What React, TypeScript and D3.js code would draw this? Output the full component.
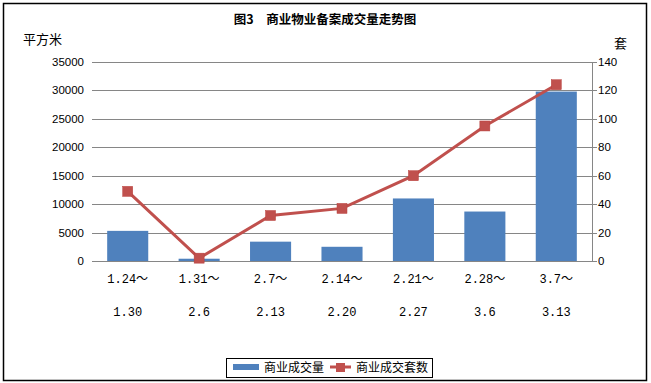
import React from "react";
import * as d3 from "d3";

const categoriesTop = ["1.24～", "1.31～", "2.7～", "2.14～", "2.21～", "2.28～", "3.7～"];
const categoriesBottom = ["1.30", "2.6", "2.13", "2.20", "2.27", "3.6", "3.13"];
const areaValues = [5300, 400, 3400, 2500, 11000, 8700, 29800];
const unitValues = [49, 2, 32, 37, 60, 95, 124];
const leftTicks = [0, 5000, 10000, 15000, 20000, 25000, 30000, 35000];
const rightTicks = [0, 20, 40, 60, 80, 100, 120, 140];

const W = 651;
const H = 383;
const plotLeft = 92;
const plotRight = 592;
const plotTop = 62;
const plotBottom = 261;

const barColor = "#4F81BD";
const lineColor = "#C0504D";
const gridColor = "#868686";
const cjk = "'Noto Sans CJK SC', sans-serif";
const num = "'Liberation Sans', Arial, sans-serif";
const mono = "'Liberation Mono', 'DejaVu Sans Mono', monospace";

export default function App() {
  const x = d3.scaleBand<number>().domain(d3.range(categoriesTop.length)).range([plotLeft, plotRight]).paddingInner(0.425).paddingOuter(0.2125);
  const band = d3.scaleBand<number>().domain(d3.range(categoriesTop.length)).range([plotLeft, plotRight]);
  const yL = d3.scaleLinear().domain([0, 35000]).range([plotBottom, plotTop]);
  const yR = d3.scaleLinear().domain([0, 140]).range([plotBottom, plotTop]);
  const cx = (i: number) => (band(i) as number) + band.bandwidth() / 2;
  const line = d3.line<number>().x((_, i) => cx(i)).y((d) => yR(d));

  return (
    <svg width={W} height={H} style={{ position: "absolute", left: 0, top: 0, background: "#fff" }}>
      <rect x={0} y={0} width={W} height={H} fill="#fff" />
      <rect x={3.5} y={3.5} width={643} height={377} fill="none" stroke="#000" strokeWidth={1.5} />
      <text x={325} y={24} textAnchor="middle" fontFamily={cjk} fontWeight="bold" fontSize={12.5} fill="#000">
        图3　商业物业备案成交量走势图
      </text>
      <text x={23} y={44} fontFamily={cjk} fontSize={13} fill="#000">平方米</text>
      <text x={614} y={48} fontFamily={cjk} fontSize={13} fill="#000">套</text>

      {leftTicks.map((t) => (
        <g key={"g" + t}>
          <line x1={plotLeft} x2={plotRight} y1={Math.round(yL(t)) + 0.5} y2={Math.round(yL(t)) + 0.5} stroke={gridColor} strokeWidth={1} />
          <text x={84} y={yL(t) + 4} textAnchor="end" fontFamily={num} fontSize={11.5} fill="#000">{t}</text>
        </g>
      ))}
      {rightTicks.map((t) => (
        <g key={"r" + t}>
          <line x1={plotRight} x2={plotRight + 5} y1={Math.round(yR(t)) + 0.5} y2={Math.round(yR(t)) + 0.5} stroke={gridColor} />
          <text x={598} y={yR(t) + 4} textAnchor="start" fontFamily={num} fontSize={11.5} fill="#000">{t}</text>
        </g>
      ))}
      <line x1={plotRight + 0.5} x2={plotRight + 0.5} y1={plotTop} y2={plotBottom + 1} stroke={gridColor} />

      {areaValues.map((v, i) => (
        <rect key={"b" + i} x={x(i)} y={yL(v)} width={x.bandwidth()} height={plotBottom - yL(v)} fill={barColor} />
      ))}
      <line x1={plotLeft} x2={plotRight} y1={plotBottom + 0.5} y2={plotBottom + 0.5} stroke={gridColor} />

      <path d={line(unitValues) as string} fill="none" stroke={lineColor} strokeWidth={3} />
      {unitValues.map((v, i) => (
        <rect key={"m" + i} x={cx(i) - 5} y={yR(v) - 5} width={10} height={10} fill={lineColor} stroke="#B9403D" strokeWidth={0.5} />
      ))}

      {categoriesTop.map((c, i) => (
        <g key={"c" + i}>
          <text x={cx(i)} y={283} textAnchor="middle" fontFamily={mono} fontSize={12} fill="#000">
            <tspan>{c.replace("～", "")}</tspan>
            <tspan fontFamily={cjk}>～</tspan>
          </text>
          <text x={cx(i)} y={316} textAnchor="middle" fontFamily={mono} fontSize={12} fill="#000">{categoriesBottom[i]}</text>
        </g>
      ))}

      <rect x={226.5} y={358.5} width={206} height={19} fill="#fff" stroke="#000" strokeWidth={1} />
      <rect x={233} y={364} width={26} height={6} fill={barColor} />
      <text x={264} y={372} fontFamily={cjk} fontSize={12} fill="#000">商业成交量</text>
      <line x1={330} x2={351} y1={367} y2={367} stroke={lineColor} strokeWidth={3} />
      <rect x={336} y={363} width={9} height={9} fill={lineColor} />
      <text x={356} y={372} fontFamily={cjk} fontSize={12} fill="#000">商业成交套数</text>
    </svg>
  );
}
